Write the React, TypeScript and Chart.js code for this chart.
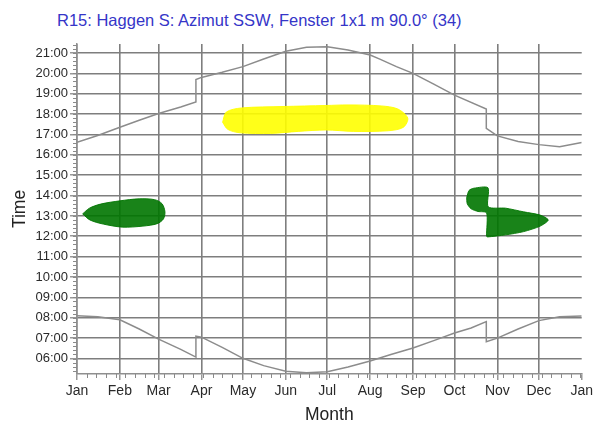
import React, { useEffect, useRef } from "react";
import { Chart, registerables } from "chart.js";

Chart.register(...registerables);

const chartTitle = "R15: Haggen S: Azimut SSW, Fenster 1x1 m 90.0° (34)";
const xTitle = "Month";
const yTitle = "Time";

const monthLabels = ["Jan", "Feb", "Mar", "Apr", "May", "Jun", "Jul", "Aug", "Sep", "Oct", "Nov", "Dec", "Jan"];
const monthStartDays = [0, 31, 59, 90, 120, 151, 181, 212, 243, 273, 304, 334, 365];
const hourTicks = [6, 7, 8, 9, 10, 11, 12, 13, 14, 15, 16, 17, 18, 19, 20, 21];
const yMin = 5.24;
const yMax = 21.44;

// Sunset (upper grey curve), day of year -> hour
const sunsetDays = [0, 15, 31, 45, 59, 75, 86, 86, 90, 105, 120, 135, 151, 166, 181, 196, 212, 219, 231, 243, 258, 273, 296, 296, 304, 319, 334, 349, 365];
const sunsetHours = [16.62, 16.95, 17.35, 17.7, 18.03, 18.35, 18.6, 19.7, 19.8, 20.05, 20.33, 20.7, 21.08, 21.28, 21.3, 21.15, 20.9, 20.7, 20.33, 20.0, 19.47, 18.93, 18.25, 17.3, 16.93, 16.65, 16.5, 16.4, 16.6];

// Sunrise (lower grey curve)
const sunriseDays = [0, 15, 31, 45, 59, 75, 86, 86, 90, 105, 120, 135, 151, 166, 181, 196, 212, 227, 243, 258, 273, 285, 296, 296, 304, 319, 334, 349, 365];
const sunriseHours = [8.1, 8.05, 7.9, 7.45, 6.95, 6.45, 6.07, 7.1, 7.05, 6.55, 6.01, 5.65, 5.38, 5.3, 5.35, 5.58, 5.88, 6.2, 6.52, 6.88, 7.25, 7.5, 7.81, 6.83, 7.0, 7.45, 7.86, 8.05, 8.09];

// Sun-on-window areas (outlines)
const greenWinterDays = [4.1, 9, 17, 31, 45, 56, 61.5, 63.6, 62.5, 58, 47.7, 33, 19, 9.4, 4.1];
const greenWinterHours = [13.1, 13.38, 13.58, 13.74, 13.84, 13.8, 13.6, 13.2, 12.85, 12.62, 12.5, 12.45, 12.6, 12.8, 13.1];

const yellowSummerDays = [105.3, 108, 119, 149, 180, 196, 220, 232, 239.2, 236, 225, 200, 180, 160, 140, 118, 109, 105.3];
const yellowSummerHours = [17.6, 18.1, 18.3, 18.37, 18.42, 18.45, 18.4, 18.25, 17.8, 17.35, 17.18, 17.15, 17.22, 17.15, 17.05, 17.08, 17.25, 17.6];

const greenAutumnDays = [281.8, 283.5, 287, 297.2, 297.4, 310, 323, 335, 340.8, 335, 323, 310, 297, 296.2, 296.2, 290, 285, 282.2, 281.8];
const greenAutumnHours = [13.9, 14.25, 14.36, 14.38, 13.45, 13.38, 13.2, 13.04, 12.8, 12.5, 12.23, 12.07, 11.97, 12.0, 13.15, 13.22, 13.35, 13.6, 13.9];

const FONT = "'Liberation Sans', Arial, sans-serif";

const toPoints = (xs: number[], ys: number[]) => xs.map((x, i) => ({ x, y: ys[i] }));

const minorTicksPlugin = {
  id: "minorTicks",
  afterDraw(chart: any) {
    const { ctx, scales } = chart;
    const x = scales.x;
    const y = scales.y;
    ctx.save();
    ctx.strokeStyle = "#8a8a8a";
    ctx.lineWidth = 1;
    ctx.beginPath();
    for (let d = 7; d < 365; d += 7) {
      const px = Math.round(x.getPixelForValue(d)) + 0.5;
      ctx.moveTo(px, y.bottom);
      ctx.lineTo(px, y.bottom + 4);
    }
    for (let h = Math.ceil(yMin * 5) / 5; h <= yMax; h += 0.2) {
      const py = Math.round(y.getPixelForValue(h)) + 0.5;
      ctx.moveTo(x.left - 4, py);
      ctx.lineTo(x.left, py);
    }
    ctx.stroke();
    ctx.restore();
  },
};

export default function App() {
  const canvasRef = useRef<HTMLCanvasElement | null>(null);

  useEffect(() => {
    if (!canvasRef.current) return;
    const gridColor = "#7e7e7e";
    const chart = new Chart(canvasRef.current, {
      type: "line",
      data: {
        datasets: [
          {
            data: toPoints(sunsetDays, sunsetHours),
            borderColor: "#8c8c8c",
            borderWidth: 1.5,
            pointRadius: 0,
            fill: false,
            tension: 0,
          },
          {
            data: toPoints(sunriseDays, sunriseHours),
            borderColor: "#8c8c8c",
            borderWidth: 1.5,
            pointRadius: 0,
            fill: false,
            tension: 0,
          },
          {
            data: toPoints(greenWinterDays, greenWinterHours),
            borderColor: "rgba(0,118,0,0.9)",
            backgroundColor: "rgba(0,118,0,0.9)",
            borderWidth: 1,
            pointRadius: 0,
            fill: "shape",
            tension: 0.3,
          },
          {
            data: toPoints(yellowSummerDays, yellowSummerHours),
            borderColor: "rgba(255,255,0,0.9)",
            backgroundColor: "rgba(255,255,0,0.9)",
            borderWidth: 1,
            pointRadius: 0,
            fill: "shape",
            tension: 0.3,
          },
          {
            data: toPoints(greenAutumnDays, greenAutumnHours),
            borderColor: "rgba(0,118,0,0.9)",
            backgroundColor: "rgba(0,118,0,0.9)",
            borderWidth: 1,
            pointRadius: 0,
            fill: "shape",
            tension: 0.25,
          },
        ],
      } as any,
      options: {
        responsive: false,
        animation: false,
        events: [],
        layout: { padding: { left: 0, right: 14, top: 44, bottom: 0 } },
        plugins: {
          legend: { display: false },
          tooltip: { enabled: false },
          title: { display: false },
        },
        scales: {
          x: {
            type: "linear",
            min: 0,
            max: 365,
            afterBuildTicks: (s: any) => {
              s.ticks = monthStartDays.map((v) => ({ value: v }));
            },
            afterFit: (s: any) => {
              s.height = 53;
            },
            ticks: {
              autoSkip: false,
              maxRotation: 0,
              minRotation: 0,
              padding: 3,
              color: "#2a2a2a",
              font: { family: FONT, size: 14 },
              callback: (_v: any, i: number) => monthLabels[i],
            },
            grid: {
              color: (c: any) => (c.tick && c.tick.value === 365 ? "rgba(0,0,0,0)" : gridColor),
              lineWidth: 1.6,
              tickLength: 6,
              tickColor: gridColor,
              tickWidth: 1.2,
            },
            border: { color: "#8f8f8f", width: 1.5 },
            title: {
              display: true,
              text: xTitle,
              color: "#222",
              font: { family: FONT, size: 17.5 },
              padding: { top: 0, bottom: 1 },
            },
          },
          y: {
            type: "linear",
            min: yMin,
            max: yMax,
            afterBuildTicks: (s: any) => {
              s.ticks = hourTicks.map((v) => ({ value: v }));
            },
            afterFit: (s: any) => {
              s.width = 77;
            },
            ticks: {
              autoSkip: false,
              padding: 2,
              color: "#2a2a2a",
              font: { family: FONT, size: 13 },
              callback: (v: any) => String(v).padStart(2, "0") + ":00",
            },
            grid: {
              color: gridColor,
              lineWidth: 1.6,
              tickLength: 7,
              tickColor: gridColor,
              tickWidth: 1.2,
            },
            border: { color: "#8f8f8f", width: 1.5 },
            title: {
              display: true,
              text: yTitle,
              color: "#222",
              font: { family: FONT, size: 17.5 },
              padding: { top: 10, bottom: 0 },
            },
          },
        },
      } as any,
      plugins: [minorTicksPlugin],
    });
    return () => chart.destroy();
  }, []);

  return (
    <div style={{ position: "fixed", left: 0, top: 0, width: 596, height: 427, background: "#fff" }}>
      <div
        style={{
          position: "absolute",
          left: 57,
          top: 12,
          fontFamily: FONT,
          fontSize: 16.5,
          lineHeight: "16.5px",
          color: "#3535c8",
          whiteSpace: "nowrap",
        }}
      >
        {chartTitle}
      </div>
      <canvas ref={canvasRef} width={596} height={427} style={{ position: "absolute", left: 0, top: 0, width: 596, height: 427 }} />
    </div>
  );
}
